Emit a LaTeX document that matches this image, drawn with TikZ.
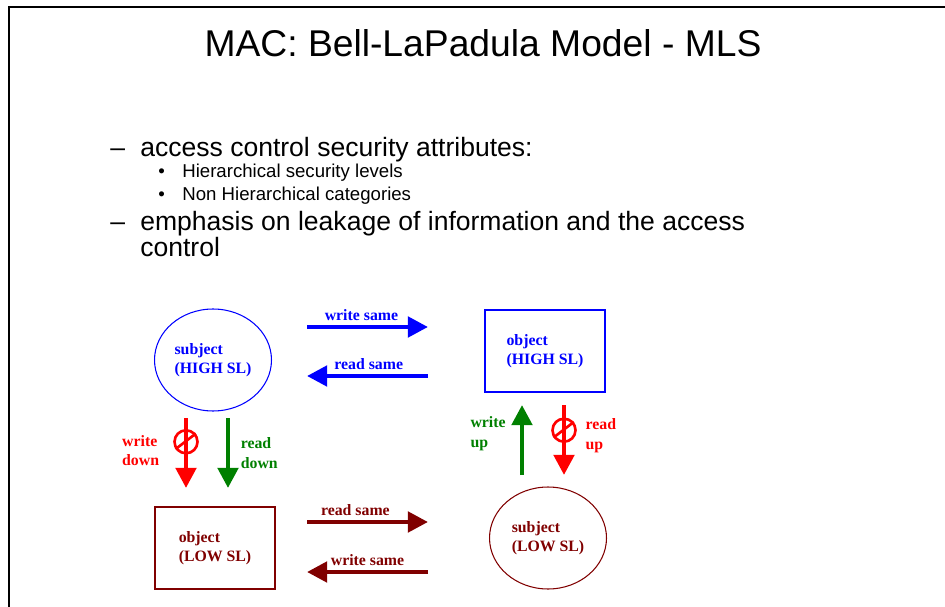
\documentclass[tikz,border=0pt]{standalone}
\usepackage{fontspec}
\setmainfont{Liberation Sans}
\newfontfamily\diagfont{Liberation Serif}
\usetikzlibrary{positioning,shapes.geometric,arrows.meta}

\definecolor{slblue}{RGB}{0,0,255}
\definecolor{slred}{RGB}{255,0,0}
\definecolor{slgreen}{RGB}{0,128,0}
\definecolor{slmaroon}{RGB}{128,0,0}

\tikzset{
  lbl/.style={font=\diagfont\bfseries\fontsize{9}{11}\selectfont,align=left,inner sep=1pt},
  subj/.style={ellipse,draw,line width=0.6pt,minimum width=2.34cm,minimum height=2.04cm,lbl},
  obj/.style={rectangle,draw,line width=0.6pt,minimum width=2.4cm,minimum height=1.64cm,lbl},
  flow/.style={line width=2.6pt,-{Triangle[length=11.5pt,width=11.5pt]}},
  nogo/.style={circle,draw,line width=1.5pt,minimum size=0.46cm,inner sep=0pt},
  big/.style={font=\fontsize{15.1}{18}\selectfont,inner sep=0pt,anchor=base west},
  small/.style={font=\fontsize{10.6}{13}\selectfont,inner sep=0pt,anchor=base west}
}

\begin{document}
\begin{tikzpicture}[x=0.02cm,y=-0.02cm]
\useasboundingbox (0,0) rectangle (945,607);
\draw[line width=1.1pt] (9,607) -- (9,7) -- (945,7);

\node (title) [anchor=base,font=\fontsize{21.2}{25}\selectfont] at (483,57)
  {MAC: Bell-LaPadula Model - MLS};

\node (dashA) [big] at (110,157) {--};
\node (attr) [big] at (140,157) {access control security attributes:};
\node (dotA) [small] at (158,178) {\textbullet};
\node (levels) [small] at (182,178) {Hierarchical security levels};
\node (dotB) [small] at (158,201) {\textbullet};
\node (cats) [small] at (182,201) {Non Hierarchical categories};
\node (dashB) [big] at (110,231) {--};
\node (leak) [big] at (140,231) {emphasis on leakage of information and the access};
\node (leakB) [big] at (140,257) {control};

\node (subjHi) [subj,slblue] at (213,360) {subject\\(HIGH SL)};
\node (objHi) [obj,slblue] at (545,351) {object\\(HIGH SL)};
\node (objLo) [obj,slmaroon] at (215,548) {object\\(LOW SL)};
\node (subjLo) [subj,slmaroon] at (548,538) {subject\\(LOW SL)};

\coordinate (hiWa) at (307,327);
\coordinate (hiWb) at (428,327);
\coordinate (hiRa) at (428,376);
\coordinate (hiRb) at (307,376);
\coordinate (loRa) at (307,522);
\coordinate (loRb) at (428,522);
\coordinate (loWa) at (428,572);
\coordinate (loWb) at (307,572);
\coordinate (wdTop) at (186,418);
\coordinate (wdBot) at (186,488);
\coordinate (rdTop) at (228,418);
\coordinate (rdBot) at (228,488);
\coordinate (wuBot) at (522,475);
\coordinate (wuTop) at (522,405);
\coordinate (ruTop) at (564,405);
\coordinate (ruBot) at (564,475);

\draw[flow,slblue] (hiWa) -- node (wsHi) [lbl,above=1.5pt,pos=0.45] {write same} (hiWb);
\draw[flow,slblue] (hiRa) -- node (rsHi) [lbl,above=1.5pt,pos=0.49] {read same} (hiRb);
\draw[flow,slmaroon] (loRa) -- node (rsLo) [lbl,above=1.5pt,pos=0.4] {read same} (loRb);
\draw[flow,slmaroon] (loWa) -- node (wsLo) [lbl,above=1.5pt,pos=0.5] {write same} (loWb);

\draw[flow,slred] (wdTop) -- node (wdStop) [nogo,pos=0.34] {}
  node (wdLbl) [lbl,left=13pt,pos=0.47] {write\\down} (wdBot);
\draw[slred,line width=1.5pt] (wdStop.215) -- (wdStop.40);
\draw[flow,slgreen] (rdTop) -- node (rdLbl) [lbl,right=5pt,pos=0.5] {read\\down} (rdBot);

\draw[flow,slgreen] (wuBot) -- node (wuLbl) [lbl,left=7pt,pos=0.59] {write\\up} (wuTop);
\draw[flow,slred] (ruTop) -- node (ruStop) [nogo,pos=0.36] {}
  node (ruLbl) [lbl,right=10pt,pos=0.44] {read\\up} (ruBot);
\draw[slred,line width=1.5pt] (ruStop.215) -- (ruStop.40);
\end{tikzpicture}
\end{document}
